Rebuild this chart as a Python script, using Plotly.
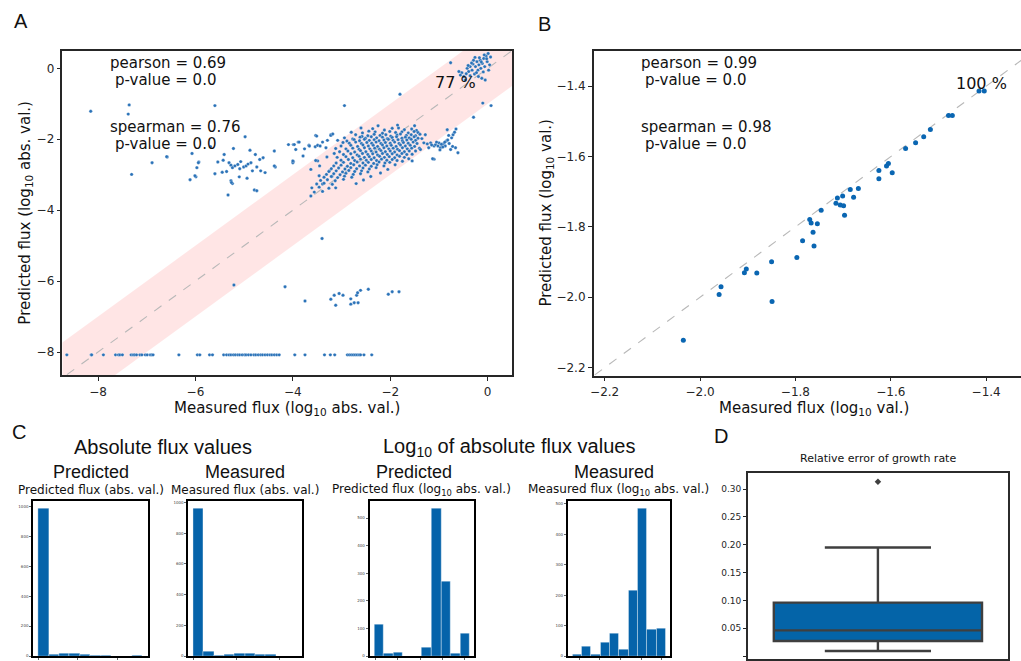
import numpy as np
import plotly.graph_objects as go

W, H = 1021, 661

# ---------------- Panel A data (log10 abs. values) ----------------
bottom_row_x = [-8.64, -8.14, -8.13, -7.89, -7.64, -7.58, -7.55, -7.50, -7.32, -7.28, -7.25, -7.21,
                -7.14, -7.10, -7.03, -6.99, -6.93, -6.90, -6.87, -6.34, -5.96, -5.91, -5.71, -5.65,
                -5.42, -5.36, -5.31, -5.27, -5.22, -5.18, -5.13, -5.09, -5.04, -4.99, -4.96, -4.91,
                -4.86, -4.80, -4.76, -4.71, -4.66, -4.62, -4.57, -4.52, -4.47, -4.43, -4.38, -4.33,
                -4.28, -3.96, -3.75, -3.35, -3.23, -3.14, -2.88, -2.84, -2.80, -2.76, -2.72, -2.68,
                -2.64, -2.61, -2.54, -2.38]
bottom_row_y = -8.08

low_group = [(-5.21, -6.11), (-4.16, -6.16), (-3.40, -4.80), (-3.75, -6.56), (-3.22, -6.51),
             (-3.15, -6.40), (-3.12, -6.68), (-3.05, -6.35), (-2.97, -6.40), (-2.81, -6.50),
             (-2.81, -6.65), (-2.74, -6.61), (-2.66, -6.61), (-2.69, -6.40), (-2.67, -6.33),
             (-2.61, -6.26), (-2.45, -6.23), (-2.04, -6.37), (-1.96, -6.30), (-1.82, -6.30)]

upper_left = [(-8.15, -1.21), (-7.36, -1.03), (-7.38, -1.29), (-5.60, -1.05), (-4.98, -1.93),
              (-6.89, -2.66), (-6.58, -2.50), (-7.31, -2.99), (-6.07, -2.40), (-5.93, -2.64),
              (-5.97, -2.80), (-5.99, -3.06), (-6.11, -3.14), (-6.01, -3.03), (-5.94, -2.66),
              (-5.41, -2.43), (-5.22, -2.26), (-5.54, -2.64), (-5.43, -2.59), (-5.60, -2.97),
              (-5.45, -2.93), (-5.36, -2.91), (-5.31, -2.66), (-5.27, -2.73), (-5.24, -2.80),
              (-5.19, -2.75), (-5.13, -2.71), (-5.09, -2.83), (-5.07, -2.63), (-5.01, -2.78),
              (-4.96, -2.75), (-4.92, -2.70), (-4.88, -2.31), (-4.86, -2.66), (-4.83, -2.89),
              (-4.77, -2.43), (-4.74, -2.78), (-4.68, -2.57), (-4.66, -2.89), (-4.61, -2.52),
              (-4.57, -2.94), (-4.36, -2.78), (-4.38, -2.33), (-5.10, -3.06), (-4.94, -3.10),
              (-5.27, -3.17), (-5.24, -3.25), (-5.33, -3.57), (-4.79, -3.43), (-4.74, -3.45),
              (-5.26, -3.22), (-4.09, -2.15), (-3.99, -2.15), (-3.89, -2.08), (-3.94, -2.29),
              (-3.67, -2.17), (-3.99, -2.63), (-3.79, -2.47), (-4.38, -2.75), (-4.00, -2.66),
              (-5.69, -2.21), (-6.59, -2.49), (-2.94, -1.05), (-1.80, -0.73), (-3.53, -1.89),
              (-3.22, -1.87)]

left_group = [(-3.97, -2.15), (-3.87, -2.08), (-3.76, -2.27), (-3.66, -2.19), (-3.54, -2.21),
              (-3.49, -2.17), (-3.44, -2.19), (-3.39, -2.08), (-3.29, -2.03), (-3.22, -1.89),
              (-3.18, -1.85), (-3.51, -1.91), (-3.32, -2.24), (-4.00, -2.61), (-3.49, -2.61),
              (-3.63, -2.85), (-3.46, -3.03), (-3.25, -2.89), (-3.53, -2.60), (-3.39, -3.26),
              (-3.12, -3.37), (-3.20, -3.05)]

cloud = [(-2.36, -1.70), (-2.12, -1.74), (-1.96, -1.69), (-1.71, -1.73), (-1.56, -1.71), (-1.46, -1.75),
         (-1.83, -1.68), (-2.57, -1.82), (-2.31, -1.79), (-2.16, -1.83), (-2.01, -1.78), (-1.89, -1.81),
         (-1.76, -1.79), (-1.63, -1.82), (-1.51, -1.78), (-1.43, -1.81), (-2.44, -1.77), (-2.71, -1.87),
         (-2.46, -1.90), (-2.33, -1.86), (-2.21, -1.89), (-2.09, -1.87), (-1.99, -1.91), (-1.86, -1.88),
         (-1.79, -1.85), (-1.67, -1.89), (-1.57, -1.87), (-1.48, -1.90), (-1.39, -1.86), (-2.58, -1.92),
         (-2.94, -1.96), (-2.62, -1.94), (-2.51, -1.97), (-2.39, -1.93), (-2.28, -1.96), (-2.16, -1.94),
         (-2.06, -1.98), (-1.96, -1.95), (-1.87, -1.93), (-1.76, -1.97), (-1.69, -1.94), (-1.61, -1.96),
         (-1.51, -1.93), (-1.43, -1.97), (-2.77, -1.99), (-3.08, -2.03), (-2.74, -2.01), (-2.63, -2.04),
         (-2.53, -2.00), (-2.43, -2.03), (-2.33, -2.01), (-2.23, -2.04), (-2.13, -2.02), (-2.04, -2.00),
         (-1.94, -2.03), (-1.84, -2.01), (-1.75, -2.04), (-1.66, -2.02), (-1.57, -2.00), (-1.48, -2.03),
         (-2.89, -2.05), (-2.84, -2.11), (-2.71, -2.08), (-2.59, -2.12), (-2.48, -2.09), (-2.38, -2.11),
         (-2.29, -2.08), (-2.19, -2.12), (-2.10, -2.09), (-2.00, -2.11), (-1.91, -2.08), (-1.82, -2.12),
         (-1.73, -2.09), (-1.63, -2.11), (-1.53, -2.08), (-1.45, -2.12), (-2.97, -2.09), (-3.01, -2.19),
         (-2.81, -2.17), (-2.67, -2.20), (-2.56, -2.16), (-2.45, -2.19), (-2.35, -2.17), (-2.26, -2.20),
         (-2.16, -2.16), (-2.07, -2.19), (-1.98, -2.17), (-1.88, -2.20), (-1.79, -2.16), (-1.69, -2.19),
         (-1.59, -2.17), (-1.50, -2.20), (-2.91, -2.27), (-2.77, -2.25), (-2.64, -2.28), (-2.53, -2.24),
         (-2.42, -2.27), (-2.32, -2.25), (-2.22, -2.28), (-2.13, -2.24), (-2.03, -2.27), (-1.94, -2.25),
         (-1.85, -2.28), (-1.75, -2.24), (-1.65, -2.27), (-1.56, -2.25), (-3.12, -2.26), (-3.04, -2.35),
         (-2.87, -2.33), (-2.73, -2.36), (-2.61, -2.32), (-2.50, -2.35), (-2.39, -2.33), (-2.29, -2.36),
         (-2.19, -2.32), (-2.10, -2.35), (-2.00, -2.33), (-1.91, -2.36), (-1.81, -2.32), (-1.71, -2.35),
         (-1.61, -2.33), (-2.96, -2.43), (-2.81, -2.41), (-2.68, -2.44), (-2.57, -2.40), (-2.46, -2.43),
         (-2.36, -2.41), (-2.26, -2.44), (-2.16, -2.40), (-2.06, -2.43), (-1.96, -2.41), (-1.86, -2.44),
         (-1.76, -2.40), (-1.66, -2.43), (-3.15, -2.40), (-3.09, -2.51), (-2.91, -2.49), (-2.77, -2.52),
         (-2.64, -2.48), (-2.53, -2.51), (-2.43, -2.49), (-2.33, -2.52), (-2.22, -2.48), (-2.12, -2.51),
         (-2.02, -2.49), (-1.91, -2.52), (-1.81, -2.48), (-1.71, -2.51), (-3.01, -2.59), (-2.86, -2.57),
         (-2.73, -2.60), (-2.61, -2.56), (-2.49, -2.59), (-2.39, -2.57), (-2.28, -2.60), (-2.18, -2.56),
         (-2.07, -2.59), (-1.96, -2.57), (-1.86, -2.60), (-3.11, -2.67), (-2.96, -2.65), (-2.81, -2.68),
         (-2.68, -2.64), (-2.56, -2.67), (-2.45, -2.65), (-2.34, -2.68), (-2.23, -2.64), (-2.11, -2.67),
         (-2.01, -2.65), (-3.16, -2.75), (-3.01, -2.73), (-2.88, -2.76), (-2.75, -2.72), (-2.63, -2.75),
         (-2.51, -2.73), (-2.39, -2.76), (-2.27, -2.72), (-2.13, -2.75), (-3.21, -2.83), (-3.06, -2.81),
         (-2.93, -2.84), (-2.81, -2.80), (-2.69, -2.83), (-2.56, -2.81), (-2.43, -2.84), (-2.29, -2.80),
         (-3.26, -2.91), (-3.11, -2.89), (-2.98, -2.92), (-2.85, -2.88), (-2.73, -2.91), (-2.59, -2.89),
         (-2.46, -2.92), (-3.31, -2.99), (-3.16, -2.97), (-3.03, -3.00), (-2.91, -2.96), (-2.76, -2.99),
         (-2.61, -2.97), (-3.36, -3.07), (-3.21, -3.05), (-3.08, -3.08), (-2.94, -3.04), (-2.79, -3.07),
         (-3.43, -3.16), (-3.29, -3.14), (-3.13, -3.17), (-2.96, -3.13), (-3.51, -3.26), (-3.36, -3.24),
         (-3.19, -3.27), (-3.61, -3.37), (-3.46, -3.35), (-3.26, -3.38), (-3.56, -3.49), (-3.39, -3.47),
         (-3.63, -3.60), (-3.30, -2.50), (-3.45, -2.75), (-1.35, -1.98), (-1.40, -2.25), (-1.55, -2.42),
         (-1.62, -2.55), (-1.75, -2.62), (-1.90, -2.72), (-2.05, -2.85), (-2.20, -2.95), (-2.40, -3.05),
         (-2.55, -3.15), (-2.70, -3.25), (-2.80, -1.80), (-2.60, -1.68), (-2.25, -1.62), (-1.85, -1.60),
         (-1.50, -1.62)]

right_cluster = [(-1.17, -2.10), (-1.10, -2.19), (-1.07, -2.15), (-1.02, -2.19), (-1.00, -2.10),
                 (-0.97, -2.24), (-0.93, -2.18), (-0.90, -2.12), (-0.87, -2.19), (-0.85, -2.05),
                 (-0.83, -1.73), (-0.80, -1.89), (-0.76, -2.29), (-0.74, -1.96), (-0.71, -1.87),
                 (-0.68, -1.80), (-0.66, -2.24), (-0.65, -1.71), (-0.61, -2.38), (-1.10, -2.56),
                 (-1.21, -2.24), (-1.28, -1.87), (-1.55, -2.61), (-1.48, -2.33), (-1.38, -2.29),
                 (-1.31, -2.10), (-1.13, -2.55), (-1.05, -2.08), (-0.95, -2.14), (-0.92, -2.22),
                 (-0.88, -2.08), (-1.15, -2.16), (-1.24, -2.13), (-0.98, -2.30), (-0.79, -2.12),
                 (-0.72, -2.20), (-0.82, -2.02)]

top_cluster = [(-0.76, 0.16), (-0.53, -0.12), (-0.49, -0.23), (-0.42, 0.00), (-0.39, -0.09),
               (-0.36, 0.05), (-0.32, -0.05), (-0.30, 0.12), (-0.27, -0.16), (-0.25, 0.05),
               (-0.22, 0.19), (-0.20, -0.05), (-0.18, 0.10), (-0.15, 0.23), (-0.14, 0.00),
               (-0.11, 0.14), (-0.08, 0.28), (-0.06, 0.05), (-0.03, 0.35), (-0.01, 0.19),
               (0.01, 0.42), (0.02, -0.05), (0.04, 0.10), (-0.12, -0.28), (-0.05, -0.33),
               (-0.19, -0.23), (-0.46, -0.33), (-0.29, 0.23), (-0.23, -0.12), (-0.36, -0.21),
               (-0.59, -0.09), (-0.56, -0.19), (-0.44, -0.15), (-0.33, 0.15), (-0.17, 0.30),
               (-0.09, -0.10), (-0.02, 0.27), (0.06, 0.32), (-0.26, 0.31), (-0.40, 0.08),
               (-0.13, 0.18), (-0.07, 0.38), (-0.10, -0.98), (0.07, -1.05), (-0.29, -1.38)]

a_range_x = [-8.73, 0.50]
a_range_y = [-8.66, 0.49]
band_half_width = 1.0          # one order of magnitude
a_within_band_pct = "77 %"

# ---------------- Panel B data (log10 values) ----------------
b_measured = [-1.415, -1.404, -1.479, -1.471, -1.517, -1.531, -1.548, -1.569, -1.605, -1.609,
              -1.625, -1.597, -1.625, -1.668, -1.685, -1.701, -1.712, -1.678, -1.715, -1.706,
              -1.699, -1.697, -1.746, -1.770, -1.767, -1.754, -1.763, -1.761, -1.785, -1.797,
              -1.850, -1.849, -1.881, -1.903, -1.907, -1.956, -1.960, -2.035]
b_predicted = [-1.414, -1.414, -1.483, -1.483, -1.523, -1.544, -1.561, -1.577, -1.620, -1.627,
               -1.640, -1.646, -1.663, -1.691, -1.694, -1.712, -1.718, -1.716, -1.733, -1.738,
               -1.740, -1.767, -1.753, -1.779, -1.789, -1.791, -1.815, -1.854, -1.839, -1.887,
               -1.899, -2.012, -1.931, -1.920, -1.930, -1.970, -1.992, -2.122]
b_range_x = [-2.223, -1.327]
b_range_y = [-2.223, -1.300]
b_ticks = [-2.2, -2.0, -1.8, -1.6, -1.4]
b_within_band_pct = "100 %"

# ---------------- Panel C data (histogram counts, 10 bins) ----------------
hist_pred_abs = [983, 8, 20, 18, 12, 5, 2, 0, 0, 1]
hist_meas_abs = [958, 28, 4, 11, 17, 15, 9, 9, 0, 0]
hist_pred_log = [115, 8, 12, 0, 0, 30, 533, 270, 8, 80]
hist_meas_log = [5, 33, 5, 45, 75, 23, 214, 484, 88, 91]
pred_log_limits = [-8.08, 0.42]
meas_log_limits = [-8.64, 0.38]
pred_abs_limits = [0.0, 2.63]
meas_abs_limits = [0.0, 2.40]

# ---------------- Panel D data (relative error of growth rate) ----------------
growth_q1 = 0.027
growth_median = 0.046
growth_q3 = 0.096
growth_lower_whisker = 0.009
growth_upper_whisker = 0.195
growth_outliers = [0.313]


def P(x, y):
    """pixel -> paper coordinates"""
    return x / W, 1 - y / H


TICK_FONT = dict(family="DejaVu Sans", size=12, color="#262626")
SPINE = "#262626"

fig = go.Figure()

# ----- Panel A -----
lo, hi = a_range_x[0] - 2, a_range_x[1] + 2
fig.add_trace(go.Scatter(
    x=[lo, hi, hi, lo, lo],
    y=[lo - band_half_width, hi - band_half_width, hi + band_half_width, lo + band_half_width,
       lo - band_half_width],
    mode="lines", fill="toself", fillcolor="rgba(255,0,0,0.10)", line=dict(width=0),
    hoverinfo="skip", xaxis="x", yaxis="y"))
fig.add_trace(go.Scatter(x=[lo, hi], y=[lo, hi], mode="lines",
                         line=dict(color="#b8b8b8", width=1.1, dash="dash"),
                         xaxis="x", yaxis="y"))
a_pts = low_group + upper_left + left_group + cloud + right_cluster + top_cluster
a_x = bottom_row_x + [p[0] for p in a_pts]
a_y = [bottom_row_y] * len(bottom_row_x) + [p[1] for p in a_pts]
fig.add_trace(go.Scatter(x=a_x, y=a_y, mode="markers",
                         marker=dict(color="#2a72b8", size=3.4, line=dict(color="white", width=0.3)),
                         xaxis="x", yaxis="y"))

# ----- Panel B -----
blo, bhi = b_range_x[0] - 1, b_range_y[1] + 1
fig.add_trace(go.Scatter(x=[blo, bhi], y=[blo, bhi], mode="lines",
                         line=dict(color="#b8b8b8", width=1.1, dash="dash"),
                         xaxis="x2", yaxis="y2"))
fig.add_trace(go.Scatter(x=b_measured, y=b_predicted, mode="markers",
                         marker=dict(color="#0a66b2", size=5),
                         xaxis="x2", yaxis="y2"))

# ----- Panel C -----
BAR_COLOR = "#0563aa"
hists = [(hist_pred_abs, pred_abs_limits, "x3", "y3"),
         (hist_meas_abs, meas_abs_limits, "x4", "y4"),
         (hist_pred_log, pred_log_limits, "x5", "y5"),
         (hist_meas_log, meas_log_limits, "x6", "y6")]
hist_xranges = []
for counts, lims, xa, ya in hists:
    edges = np.linspace(lims[0], lims[1], len(counts) + 1)
    centers = (edges[:-1] + edges[1:]) / 2
    bw = edges[1] - edges[0]
    span = lims[1] - lims[0]
    hist_xranges.append([lims[0] - 0.05 * span, lims[1] + 0.05 * span])
    fig.add_trace(go.Bar(x=centers, y=counts, width=bw,
                         marker=dict(color=BAR_COLOR, line=dict(color="rgba(255,255,255,0.6)", width=0.6)),
                         xaxis=xa, yaxis=ya))

# ----- Panel D -----
fig.add_trace(go.Box(x=[0], q1=[growth_q1], median=[growth_median], q3=[growth_q3],
                     lowerfence=[growth_lower_whisker], upperfence=[growth_upper_whisker],
                     width=0.8, whiskerwidth=0.51, fillcolor="#0464a8",
                     line=dict(color="#3f3f3f", width=2.4), boxpoints=False,
                     xaxis="x7", yaxis="y7"))
fig.add_trace(go.Scatter(x=[0] * len(growth_outliers), y=growth_outliers, mode="markers",
                         marker=dict(symbol="diamond", size=5, color="#3f3f3f"),
                         xaxis="x7", yaxis="y7"))

# ----- Layout / axes -----
def ax(domain, rng, anchor, **kw):
    d = dict(domain=domain, range=rng, anchor=anchor, showgrid=False, zeroline=False,
             showline=True, linecolor=SPINE, linewidth=1.5, mirror=True,
             ticks="outside", ticklen=4, tickwidth=1.1, tickcolor=SPINE, tickfont=TICK_FONT)
    d.update(kw)
    return d

a_dom_y = [1 - 375.7 / H, 1 - 49.3 / H]
layout = dict(
    width=W, height=H, autosize=False, margin=dict(l=0, r=0, t=0, b=0),
    paper_bgcolor="white", plot_bgcolor="white", showlegend=False, bargap=0,
    xaxis=ax([58.7 / W, 510 / W], a_range_x, "y", tickvals=[-8, -6, -4, -2, 0]),
    yaxis=ax(a_dom_y, a_range_y, "x", tickvals=[-8, -6, -4, -2, 0]),
    xaxis2=ax([592 / W, 1.0], b_range_x, "y2", tickvals=b_ticks, tickformat=".1f"),
    yaxis2=ax([1 - 376 / H, 1 - 49.3 / H], b_range_y, "x2", tickvals=b_ticks, tickformat=".1f",
              mirror=False),
)

hist_xdom = [[29.3 / W, 144.3 / W], [185 / W, 299 / W], [367 / W, 472.3 / W], [566 / W, 669 / W]]
hist_ytop = [1032, 1006, 560, 508]
hist_ticks = [[0, 200, 400, 600, 800, 1000], [0, 200, 400, 600, 800, 1000],
              [0, 100, 200, 300, 400, 500], [0, 100, 200, 300, 400, 500]]
hist_ydom = [1 - 658 / H, 1 - 502.5 / H]
for i in range(4):
    n = i + 3
    layout[f"xaxis{n}"] = ax(hist_xdom[i], hist_xranges[i], f"y{n}", linecolor="black", linewidth=1.8,
                             showticklabels=False, ticklen=2, tickcolor="#666")
    layout[f"yaxis{n}"] = ax(hist_ydom, [0, hist_ytop[i]], f"x{n}", linecolor="black", linewidth=1.8,
                             tickvals=hist_ticks[i], ticklen=2, tickwidth=0.6, tickcolor="#666",
                             tickfont=dict(family="DejaVu Sans", size=4, color="#444"))

d_top = 474
d_range_y = [0 - (H - 658) / 560, 0.30 + (490 - d_top) / 560]
layout["xaxis7"] = ax([746.7 / W, 1008 / W], [-0.5, 0.5], "y7", showticklabels=False, ticks="",
                      linecolor="#2b2b2b")
layout["yaxis7"] = ax([0, 1 - d_top / H], d_range_y, "x7", linecolor="#2b2b2b",
                      tickvals=[0, 0.05, 0.10, 0.15, 0.20, 0.25, 0.30], tickformat=".2f",
                      ticklen=3, tickfont=dict(family="DejaVu Sans", size=9, color="#262626"))

fig.update_layout(**layout)

# ----- Text annotations -----
def txt(s, x, y, size, family="DejaVu Sans", xanchor="center", angle=0, color="#111111"):
    px_, py_ = P(x, y)
    fig.add_annotation(text=s, x=px_, y=py_, xref="paper", yref="paper", showarrow=False,
                       xanchor=xanchor, yanchor="middle", textangle=angle,
                       font=dict(family=family, size=size, color=color))

ARIAL = "Liberation Sans, Arial"
# panel letters
txt("A", 17, 19, 20, ARIAL)
txt("B", 543, 22, 20, ARIAL)
txt("C", 15, 433, 20, ARIAL)
txt("D", 720, 437, 20, ARIAL)

# Panel A texts
txt("pearson = 0.69", 104, 61, 15, xanchor="left")
txt("p-value = 0.0", 109, 78, 15, xanchor="left")
txt("spearman = 0.76", 104, 126, 15, xanchor="left")
txt("p-value = 0.0", 109, 143, 15, xanchor="left")
txt(a_within_band_pct, 453, 81, 16)
txt("Measured flux (log<sub>10</sub> abs. val.)", 284, 409, 15)
txt("Predicted flux (log<sub>10</sub> abs. val.)", 22, 212, 15, angle=-90)

# Panel B texts
txt("pearson = 0.99", 637, 61, 15, xanchor="left")
txt("p-value = 0.0", 642, 78, 15, xanchor="left")
txt("spearman = 0.98", 637, 126, 15, xanchor="left")
txt("p-value = 0.0", 642, 143, 15, xanchor="left")
txt(b_within_band_pct, 981, 82, 16)
txt("Measured flux (log<sub>10</sub> val.)", 813, 409, 15)
txt("Predicted flux (log<sub>10</sub> val.)", 545, 212, 15, angle=-90)

# Panel C texts
txt("Absolute flux values", 160, 448, 20, ARIAL)
txt("Log<sub>10</sub> of absolute flux values", 507, 448, 20, ARIAL)
txt("Predicted", 87, 473, 18, ARIAL)
txt("Measured", 242, 473, 18, ARIAL)
txt("Predicted", 412, 473, 18, ARIAL)
txt("Measured", 612, 473, 18, ARIAL)
txt("Predicted flux (abs. val.)", 87, 491, 12)
txt("Measured flux (abs. val.)", 242, 491, 12)
txt("Predicted flux (log<sub>10</sub> abs. val.)", 419, 491, 12)
txt("Measured flux (log<sub>10</sub> abs. val.)", 617, 491, 12)

# Panel D title
txt("Relative error of growth rate", 877, 459, 11)

fig.write_html("out.html", config={"displayModeBar": False},
               post_script="document.body.style.margin='0px';document.body.style.overflow='hidden';")
